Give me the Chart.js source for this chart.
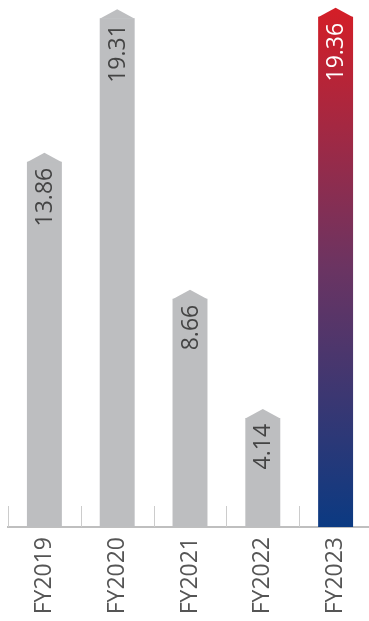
<!DOCTYPE html>
<html>
<head>
<meta charset="utf-8">
<script src="https://cdn.jsdelivr.net/npm/chart.js@4"></script>
<style>
  html, body { margin: 0; padding: 0; background: #fff; overflow: hidden; }
  #wrap { width: 372px; height: 621px; }
</style>
</head>
<body>
<div id="wrap"><canvas id="myChart"></canvas></div>
<script>
const years = ['FY2019', 'FY2020', 'FY2021', 'FY2022', 'FY2023'];
const values = [13.86, 19.31, 8.66, 4.14, 19.36];
const valueLabels = ['13.86', '19.31', '8.66', '4.14', '19.36'];

const barGray = '#bdbec0';
const capHeight = 9;

// blue -> red fade for the latest year
function lastBarGradient(chart) {
    const area = chart.chartArea;
    const top = chart.scales.y.getPixelForValue(values[values.length - 1]) - capHeight;
    const g = chart.ctx.createLinearGradient(0, area.bottom, 0, top);
    g.addColorStop(0, '#0b3a82');
    g.addColorStop(0.5, '#6b3462');
    g.addColorStop(1, '#d41e27');
    return g;
}

// pointed caps on the bars + the rotated value text
const capsPlugin = {
    id: 'caps',
    afterDatasetsDraw(chart) {
        const ctx = chart.ctx;
        const last = values.length - 1;
        chart.getDatasetMeta(0).data.forEach((bar, i) => {
            const half = bar.width / 2;
            ctx.save();
            ctx.fillStyle = i === last ? lastBarGradient(chart) : barGray;
            ctx.beginPath();
            ctx.moveTo(bar.x - half, bar.y + 0.5);
            ctx.lineTo(bar.x, bar.y - capHeight);
            ctx.lineTo(bar.x + half, bar.y + 0.5);
            ctx.closePath();
            ctx.fill();

            ctx.translate(bar.x, bar.y + 6);
            ctx.rotate(-Math.PI / 2);
            ctx.font = '23px "Open Sans"';
            ctx.fillStyle = i === last ? '#ffffff' : '#444444';
            ctx.textAlign = 'right';
            ctx.textBaseline = 'middle';
            ctx.fillText(valueLabels[i], 0, 1);
            ctx.restore();
        });
    }
};

// short separators standing on the axis between the years
const separatorsPlugin = {
    id: 'separators',
    beforeDatasetsDraw(chart) {
        const ctx = chart.ctx;
        const x = chart.scales.x;
        const bottom = chart.chartArea.bottom;
        const step = x.width / years.length;
        ctx.save();
        ctx.strokeStyle = '#cccccc';
        ctx.lineWidth = 1;
        for (let i = 0; i <= years.length; i++) {
            const px = Math.round(x.left + i * step) + 0.5;
            ctx.beginPath();
            ctx.moveTo(px, bottom);
            ctx.lineTo(px, bottom - 21);
            ctx.stroke();
        }
        ctx.restore();
    }
};

var ctx = document.getElementById('myChart').getContext('2d');
const chart = new Chart(ctx, {
    type: 'bar',
    data: {
        labels: years,
        datasets: [{
            data: values,
            backgroundColor: c => c.dataIndex === values.length - 1 && c.chart.chartArea ? lastBarGradient(c.chart) : barGray,
            borderWidth: 0,
            barPercentage: 0.48,
            categoryPercentage: 1
        }]
    },
    options: {
        responsive: true,
        maintainAspectRatio: false,
        animation: false,
        layout: { padding: { left: 8, right: 0, top: 0, bottom: 0 } },
        plugins: {
            legend: { display: false },
            tooltip: { enabled: false }
        },
        scales: {
            x: {
                afterFit: s => { s.height = 94; },
                grid: { display: false },
                border: { display: true, color: '#bfbfbf', width: 2 },
                ticks: {
                    minRotation: 90,
                    maxRotation: 90,
                    padding: 2,
                    color: '#555555',
                    font: { family: 'Open Sans', size: 23 }
                }
            },
            y: {
                display: false,
                min: 0,
                max: 20
            }
        }
    },
    plugins: [separatorsPlugin, capsPlugin]
});
</script>
</body>
</html>
